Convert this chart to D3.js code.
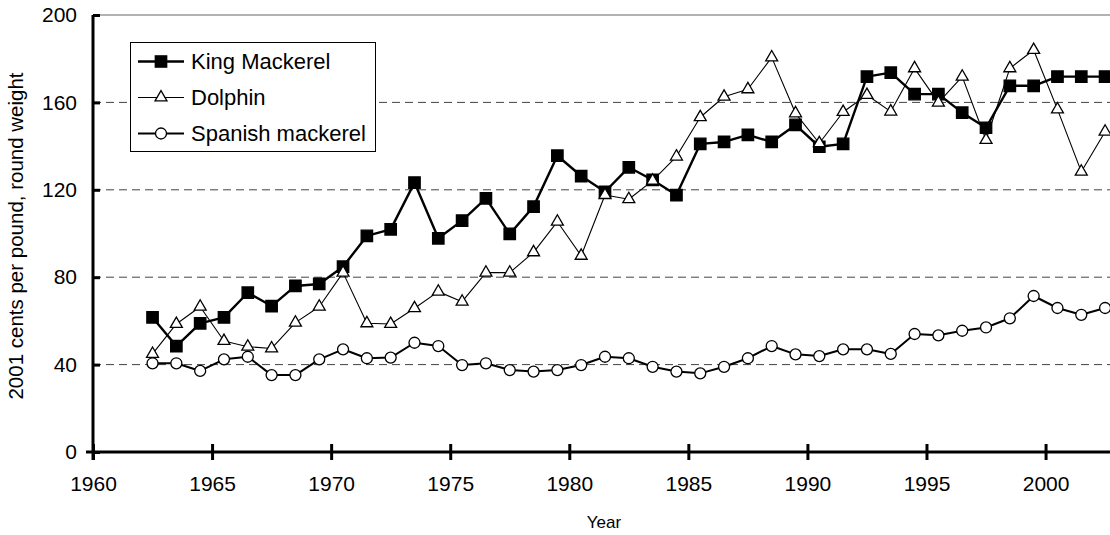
<html>
<head>
<meta charset="utf-8">
<title>Fish prices</title>
<style>
  body { margin: 0; background: #fff; }
  text { font-family: "Liberation Sans", Arial, sans-serif; fill: #000; }
</style>
<script src="https://d3js.org/d3.v7.min.js"></script>
</head>
<body>
<svg width="1110" height="535"></svg>
<script>
// data
var years = [1962,1963,1964,1965,1966,1967,1968,1969,1970,1971,
             1972,1973,1974,1975,1976,1977,1978,1979,1980,1981,
             1982,1983,1984,1985,1986,1987,1988,1989,1990,1991,
             1992,1993,1994,1995,1996,1997,1998,1999,2000,2001,2002];
var kingMackerel = [61.6,48.5,58.9,61.6,72.9,66.8,76,76.9,84.8,98.9,
                    101.9,123.3,97.8,105.9,116.1,99.8,112.3,135.6,126.3,119.1,
                    130.3,124.5,117.6,141,141.9,145.1,141.9,149.7,139.7,141,
                    171.8,173.6,163.8,163.8,155.3,148.4,167.6,167.6,171.8,171.8,171.8];
var dolphin = [44.9,58.6,66.5,50.8,48.2,47.4,59.2,66.5,82.1,58.9,
               58.6,65.8,73.4,68.8,82.1,82.1,91.4,105.4,89.8,117.6,
               115.7,124.2,135.2,153.2,162.6,166,180.6,155,141.3,155.6,
               163.4,155.8,175.6,159.9,171.8,142.8,175.6,184,156.8,128.3,146.6];
var spanishMackerel = [40.6,40.6,37.1,42.4,43.6,35.2,35.2,42.4,47,42.9,
                       43.2,50,48.5,39.8,40.6,37.5,36.8,37.5,39.8,43.6,
                       42.9,39,36.8,36,39,42.9,48.5,44.7,43.9,47,
                       47,44.9,54,53.4,55.5,57,61.2,71.4,65.9,62.8,65.9];
var xTicks = [1960,1965,1970,1975,1980,1985,1990,1995,2000];
var yTicks = [0,40,80,120,160,200];

var series = [
  {name:"King Mackerel", values:kingMackerel, symbol:d3.symbolSquare, size:130, fill:"#000", width:2.4},
  {name:"Dolphin", values:dolphin, symbol:d3.symbolTriangle, size:62, fill:"#fff", width:1.1},
  {name:"Spanish mackerel", values:spanishMackerel, symbol:d3.symbolCircle, size:95, fill:"#fff", width:2}
];

var svg = d3.select("svg");
var x = d3.scaleLinear().domain([1960,2003]).range([93,1117]);
var y = d3.scaleLinear().domain([0,200]).range([452,15]);

// gridlines
svg.append("g").selectAll("line")
  .data(yTicks.filter(d=>d>0))
  .enter().append("line")
    .attr("x1",x(1960)).attr("x2",1110)
    .attr("y1",d=>y(d)).attr("y2",d=>y(d))
    .attr("stroke",d=>d==200?"#999":"#444")
    .attr("stroke-width",d=>d==200?1.5:1)
    .attr("stroke-dasharray",d=>d==200?null:"8,5");

// axes
var gx = svg.append("g")
  .attr("transform","translate(0,"+y(0)+")")
  .call(d3.axisBottom(x).tickValues(xTicks).tickFormat(d3.format("d")).tickSize(8).tickPadding(19));
gx.select(".domain").attr("d","M86,0H1110").attr("stroke-width",3);
gx.selectAll(".tick line").attr("y1",-8).attr("stroke-width",3);
gx.selectAll(".tick text").attr("font-size","21px").attr("dy","0.55em");

var gy = svg.append("g")
  .attr("transform","translate("+x(1960)+",0)")
  .call(d3.axisLeft(y).tickValues(yTicks).tickSize(7).tickPadding(9));
gy.select(".domain").attr("d","M0,"+y(200)+"V"+(y(0)+8)).attr("stroke-width",3);
gy.selectAll(".tick line").attr("x2",7).attr("stroke-width",3);
gy.selectAll(".tick text").attr("font-size","21px");
svg.selectAll(".tick text").attr("font-family","'Liberation Sans', Arial, sans-serif").attr("fill","#000");

// axis titles
svg.append("text")
  .attr("x",604).attr("y",528)
  .attr("text-anchor","middle").attr("font-size","17px")
  .text("Year");
svg.append("text")
  .attr("transform","translate(23,236) rotate(-90)")
  .attr("text-anchor","middle").attr("font-size","20.5px")
  .text("2001 cents per pound, round weight");

// lines and markers
var line = d3.line().x((d,i)=>x(years[i]+0.5)).y(d=>y(d));
series.forEach(function(s){
  var g = svg.append("g");
  g.append("path")
    .attr("d",line(s.values))
    .attr("fill","none").attr("stroke","#000")
    .attr("stroke-width",s.width).attr("stroke-linejoin","round");
  g.selectAll("path.mark")
    .data(s.values)
    .enter().append("path")
      .attr("class","mark")
      .attr("d",d3.symbol().type(s.symbol).size(s.size))
      .attr("transform",(d,i)=>"translate("+x(years[i]+0.5)+","+y(d)+")")
      .attr("fill",s.fill).attr("stroke","#000").attr("stroke-width",1.3);
});

// legend
var legend = svg.append("g");
legend.append("rect")
  .attr("x",130.5).attr("y",42.5).attr("width",245).attr("height",109)
  .attr("fill","#fff").attr("stroke","#000").attr("stroke-width",1);
var item = legend.selectAll("g.item")
  .data(series)
  .enter().append("g")
    .attr("class","item")
    .attr("transform",(d,i)=>"translate(0,"+(61.5+i*36)+")");
item.append("line")
  .attr("x1",138).attr("x2",184)
  .attr("stroke","#000").attr("stroke-width",d=>d.width);
item.append("path")
  .attr("d",d=>d3.symbol().type(d.symbol).size(d.size)())
  .attr("transform","translate(161,0)")
  .attr("fill",d=>d.fill).attr("stroke","#000").attr("stroke-width",1.3);
item.append("text")
  .attr("x",191).attr("dy","0.36em")
  .attr("font-size","22px")
  .text(d=>d.name);
</script>
</body>
</html>
